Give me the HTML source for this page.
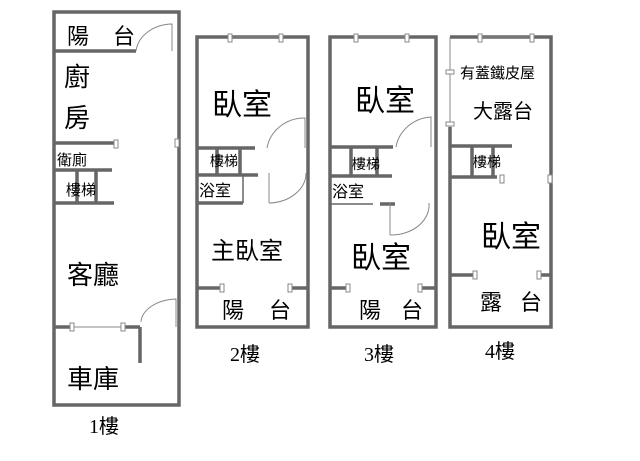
<!DOCTYPE html>
<html><head><meta charset="utf-8"><style>
body{margin:0;background:#fff;}
svg{display:block}
text{font-family:"Liberation Serif","Noto Sans CJK TC",sans-serif;fill:#000}
.c{font-family:"Noto Sans CJK TC","WenQuanYi Zen Hei",sans-serif}
</style></head><body>
<svg width="640" height="461" viewBox="0 0 640 461" xmlns="http://www.w3.org/2000/svg">
<g stroke="#666" stroke-width="3.5" fill="none">
<!-- 1F -->
<rect x="54" y="12" width="125" height="393"/>
<line x1="54" y1="51" x2="136" y2="51"/>
<line x1="54" y1="143" x2="118" y2="143"/>
<line x1="54" y1="170" x2="112" y2="170"/>
<line x1="54" y1="203" x2="114" y2="203"/>
<line x1="77" y1="170" x2="77" y2="203"/>
<line x1="96" y1="170" x2="96" y2="203"/>
<line x1="54" y1="327" x2="73" y2="327"/>
<line x1="124" y1="327" x2="140" y2="327"/>
<line x1="140" y1="327" x2="140" y2="363"/>
<!-- 2F -->
<rect x="197" y="37" width="111" height="290"/>
<line x1="197" y1="148" x2="255" y2="148"/>
<line x1="197" y1="175" x2="258" y2="175"/>
<line x1="217" y1="148" x2="217" y2="175"/>
<line x1="240" y1="148" x2="240" y2="175"/>
<line x1="197" y1="203" x2="243" y2="203"/>
<line x1="243" y1="175" x2="243" y2="203" stroke-width="1.5"/>
<line x1="197" y1="288" x2="222" y2="288"/>
<line x1="290" y1="288" x2="308" y2="288"/>
<!-- 3F -->
<rect x="330" y="37" width="106" height="290"/>
<line x1="330" y1="147" x2="393" y2="147"/>
<line x1="330" y1="176" x2="392" y2="176"/>
<line x1="351" y1="147" x2="351" y2="176"/>
<line x1="377" y1="147" x2="377" y2="176"/>
<line x1="330" y1="204" x2="373" y2="204" stroke-width="1.5"/>
<line x1="380" y1="204" x2="395" y2="204"/>
<line x1="330" y1="288" x2="348" y2="288"/>
<line x1="420" y1="288" x2="436" y2="288"/>
<!-- 4F -->
<path d="M450 127 V327 H551 V37 H450"/>
<line x1="450" y1="146" x2="512" y2="146"/>
<line x1="450" y1="177" x2="497" y2="177"/>
<line x1="472" y1="146" x2="472" y2="177"/>
<line x1="493" y1="146" x2="493" y2="177"/>
<line x1="450" y1="275" x2="475" y2="275"/>
<line x1="540" y1="275" x2="551" y2="275"/>
</g>
<g stroke="#888" stroke-width="1" fill="#fff">
<line x1="450" y1="37" x2="450" y2="127"/>
<line x1="73" y1="327" x2="124" y2="327"/>
<line x1="228" y1="37" x2="282" y2="37"/>
<line x1="354" y1="37" x2="407" y2="37"/>
<line x1="478" y1="37" x2="532" y2="37"/>
<path d="M136 51 A37 30 0 0 1 172 24 V51"/>
<path d="M141 322 A37 24 0 0 1 176 299 V327"/>
<path d="M267 148 A38 36 0 0 1 305 118 V148"/>
<path d="M269 203 V173 M269 203 A38 30 0 0 0 306 173"/>
<path d="M396 147 A38 36 0 0 1 431 117 V147"/>
<path d="M390 235 V203 M390 235 A38 30 0 0 0 429 203"/>
<rect x="114" y="140" width="4" height="8"/><rect x="175" y="139" width="4" height="8"/>
<rect x="70" y="323" width="4" height="8"/><rect x="121" y="323" width="4" height="8"/>
<rect x="228" y="34" width="4" height="8"/><rect x="279" y="34" width="4" height="8"/>
<rect x="220" y="284" width="4" height="8"/><rect x="288" y="284" width="4" height="8"/>
<rect x="354" y="34" width="4" height="8"/><rect x="405" y="34" width="4" height="8"/>
<rect x="346" y="284" width="4" height="8"/><rect x="418" y="284" width="4" height="8"/>
<rect x="478" y="34" width="4" height="8"/><rect x="530" y="34" width="4" height="8"/>
<rect x="446" y="70" width="8" height="4"/><rect x="446" y="122" width="8" height="4"/>
<rect x="500" y="175" width="4" height="8"/><rect x="548" y="175" width="4" height="8"/>
<rect x="473" y="271" width="4" height="8"/><rect x="537" y="271" width="4" height="8"/>
</g>
<g class="c">
<text x="67" y="44" font-size="22">陽</text><text x="113" y="44" font-size="22">台</text>
<text x="64" y="86" font-size="26">廚</text><text x="64" y="127" font-size="26">房</text>
<text x="57" y="165" font-size="15">衛廁</text>
<text x="66" y="195" font-size="15">樓梯</text>
<text x="67" y="284" font-size="26">客廳</text>
<text x="67" y="388" font-size="26">車庫</text>
<text x="212" y="115" font-size="30">臥室</text>
<text x="210" y="166" font-size="14">樓梯</text>
<text x="199" y="196" font-size="16">浴室</text>
<text x="211" y="259" font-size="24">主臥室</text>
<text x="222" y="318" font-size="22">陽</text><text x="269" y="318" font-size="22">台</text>
<text x="355" y="111" font-size="30">臥室</text>
<text x="352" y="169" font-size="14">樓梯</text>
<text x="332" y="197" font-size="16">浴室</text>
<text x="351" y="268" font-size="30">臥室</text>
<text x="359" y="318" font-size="22">陽</text><text x="401" y="318" font-size="22">台</text>
<text x="460" y="78" font-size="15">有蓋鐵皮屋</text>
<text x="473" y="118" font-size="20">大露台</text>
<text x="473" y="167" font-size="14">樓梯</text>
<text x="481" y="247" font-size="30">臥室</text>
<text x="480" y="310" font-size="22">露</text><text x="520" y="310" font-size="22">台</text>
</g>
<text x="89" y="433" font-size="20">1<tspan class="c">樓</tspan></text>
<text x="230" y="361" font-size="20">2<tspan class="c">樓</tspan></text>
<text x="364" y="361" font-size="20">3<tspan class="c">樓</tspan></text>
<text x="485" y="358" font-size="20">4<tspan class="c">樓</tspan></text>
</svg>
</body></html>
